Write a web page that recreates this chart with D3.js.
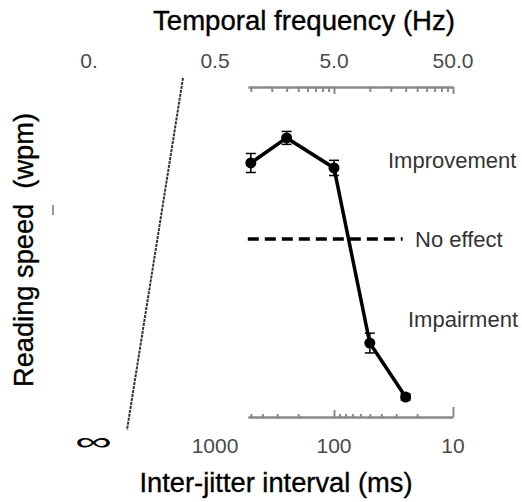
<!DOCTYPE html>
<html>
<head>
<meta charset="utf-8">
<script src="https://cdn.jsdelivr.net/npm/d3@7"></script>
<style>
  body { margin: 0; background: #fff; }
  svg { display: block; }
  text { font-family: "Liberation Sans", Arial, sans-serif; }
</style>
</head>
<body>
<div id="chart"></div>
<script>
// inter-jitter interval of each condition (ms)
var intervals = [500, 250, 100, 50, 25];
// change in reading speed relative to no jitter (wpm)
var speedChange = [20, 26.6, 18.7, -27.4, -41.6];
var speedErr = [2.5, 1.7, 2.0, 2.6, 0.8];

// axis ticks
var hzMinor = [1, 1.5, 2, 2.5, 3, 3.5, 4, 4.5, 10, 15, 20, 25, 30, 35, 40, 45];
var hzMajor = [5, 50];
var hzLabels = [0.5, 5, 50];
var msMinor = [500, 400, 300, 200, 90, 80, 70, 60, 50, 40, 30, 20];
var msMajor = [100];
var msEnd = [10];
var msLabels = [1000, 100, 10];

var W = 522, H = 502;
var svg = d3.select("#chart").append("svg").attr("width", W).attr("height", H);

var x = d3.scaleLog().domain([1000, 10]).range([215, 453]);
var xAxisScale = x.copy().domain([530, 10]).range([x(530), x(10)]);
var y = d3.scaleLinear().domain([-46.6, 40]).range([416, 87]);
var toMs = function(hz){ return 500 / hz; };

var topY = 87, botY = 417;
var grey = "#8a8a8a";

function styleAxis(g){
    g.selectAll("path").attr("stroke", grey).attr("stroke-width", 2.5);
    g.selectAll("line").attr("stroke", grey).attr("stroke-width", 2);
    g.selectAll("text").remove();
}

//top axis: frequency, ticks hang down
svg.append("g").attr("transform", "translate(0," + topY + ")")
    .call(d3.axisBottom(xAxisScale).tickValues(hzMinor.map(toMs)).tickSize(5).tickSizeOuter(0))
    .call(styleAxis);
svg.append("g").attr("transform", "translate(0," + topY + ")")
    .call(d3.axisBottom(xAxisScale).tickValues(hzMajor.map(toMs)).tickSize(7).tickSizeOuter(0))
    .call(styleAxis).select("path").remove();

//bottom axis: interval, ticks point up
svg.append("g").attr("transform", "translate(0," + botY + ")")
    .call(d3.axisTop(xAxisScale).tickValues(msMinor).tickSize(3).tickSizeOuter(0))
    .call(styleAxis);
svg.append("g").attr("transform", "translate(0," + botY + ")")
    .call(d3.axisTop(xAxisScale).tickValues(msMajor).tickSize(7).tickSizeOuter(0))
    .call(styleAxis).select("path").remove();
svg.append("g").attr("transform", "translate(0," + botY + ")")
    .call(d3.axisTop(xAxisScale).tickValues(msEnd).tickSize(10).tickSizeOuter(0))
    .call(styleAxis).select("path").remove();

//tick labels
svg.selectAll(".hzLab").data(hzLabels).enter().append("text")
    .attr("x", function(d){ return x(toMs(d)); })
    .attr("y", 68)
    .attr("text-anchor", "middle")
    .attr("font-size", 21).attr("fill", "#4a4a4a")
    .text(function(d){ return d.toFixed(1); });
svg.append("text").attr("x", 89).attr("y", 68).attr("text-anchor", "middle")
    .attr("font-size", 21).attr("fill", "#4a4a4a").text("0.");

svg.selectAll(".msLab").data(msLabels).enter().append("text")
    .attr("x", function(d){ return x(d); })
    .attr("y", 453)
    .attr("text-anchor", "middle")
    .attr("font-size", 21).attr("fill", "#4a4a4a")
    .text(function(d){ return d; });
svg.append("text").attr("x", 75).attr("y", 450)
    .attr("font-size", 25).attr("fill", "#000")
    .attr("textLength", 37).attr("lengthAdjust", "spacingAndGlyphs")
    .text("\u221E");

//axis break drawn as a slanted dotted line
svg.append("line")
    .attr("x1", 183).attr("y1", 78).attr("x2", 127).attr("y2", 430)
    .attr("stroke", "#333").attr("stroke-width", 2).attr("stroke-dasharray", "3,1");
svg.append("line")
    .attr("x1", 53).attr("y1", 205).attr("x2", 53).attr("y2", 215)
    .attr("stroke", "#555").attr("stroke-width", 1.2);

//titles
function heavy(t){ t.attr("stroke", "#000").attr("stroke-width", 0.35); }
svg.append("text").attr("x", 304).attr("y", 30).attr("text-anchor", "middle")
    .attr("font-size", 27).attr("fill", "#000")
    .attr("textLength", 302).attr("lengthAdjust", "spacingAndGlyphs")
    .text("Temporal frequency (Hz)").call(heavy);
svg.append("text").attr("x", 276).attr("y", 492).attr("text-anchor", "middle")
    .attr("font-size", 27).attr("fill", "#000")
    .attr("textLength", 273).attr("lengthAdjust", "spacingAndGlyphs")
    .text("Inter-jitter interval (ms)").call(heavy);
svg.append("text").attr("transform", "translate(33,250) rotate(-90)")
    .attr("text-anchor", "middle")
    .attr("font-size", 27).attr("fill", "#000")
    .attr("textLength", 274).attr("lengthAdjust", "spacingAndGlyphs")
    .attr("xml:space", "preserve")
    .text("Reading speed  (wpm)").call(heavy);

//no effect reference
svg.append("line")
    .attr("x1", xAxisScale(530)).attr("x2", x(26.5))
    .attr("y1", y(0)).attr("y2", y(0))
    .attr("stroke", "#000").attr("stroke-width", 3.5).attr("stroke-dasharray", "11,6");

//annotations
svg.append("text").attr("x", 388).attr("y", 168).attr("font-size", 22).attr("fill", "#333").text("Improvement");
svg.append("text").attr("x", 415).attr("y", 247).attr("font-size", 22).attr("fill", "#333").text("No effect");
svg.append("text").attr("x", 408).attr("y", 327).attr("font-size", 22).attr("fill", "#333").text("Impairment");

//data
var data = intervals.map(function(d, i){
    return {ms: d, v: speedChange[i], e: speedErr[i]};
});

var line = d3.line().x(function(d){ return x(d.ms); }).y(function(d){ return y(d.v); });
svg.append("path").datum(data).attr("d", line)
    .attr("fill", "none").attr("stroke", "#000").attr("stroke-width", 3.5);

var err = svg.selectAll(".err").data(data).enter().append("g");
err.append("line")
    .attr("x1", function(d){ return x(d.ms); }).attr("x2", function(d){ return x(d.ms); })
    .attr("y1", function(d){ return y(d.v + d.e); }).attr("y2", function(d){ return y(d.v - d.e); })
    .attr("stroke", "#000").attr("stroke-width", 1.5);
[1, -1].forEach(function(s){
    err.append("line")
        .attr("x1", function(d){ return x(d.ms) - 5; }).attr("x2", function(d){ return x(d.ms) + 5; })
        .attr("y1", function(d){ return y(d.v + s * d.e); }).attr("y2", function(d){ return y(d.v + s * d.e); })
        .attr("stroke", "#000").attr("stroke-width", 1.5);
});

svg.selectAll(".pt").data(data).enter().append("circle")
    .attr("cx", function(d){ return x(d.ms); })
    .attr("cy", function(d){ return y(d.v); })
    .attr("r", 5.5).attr("fill", "#000");
</script>
</body>
</html>
